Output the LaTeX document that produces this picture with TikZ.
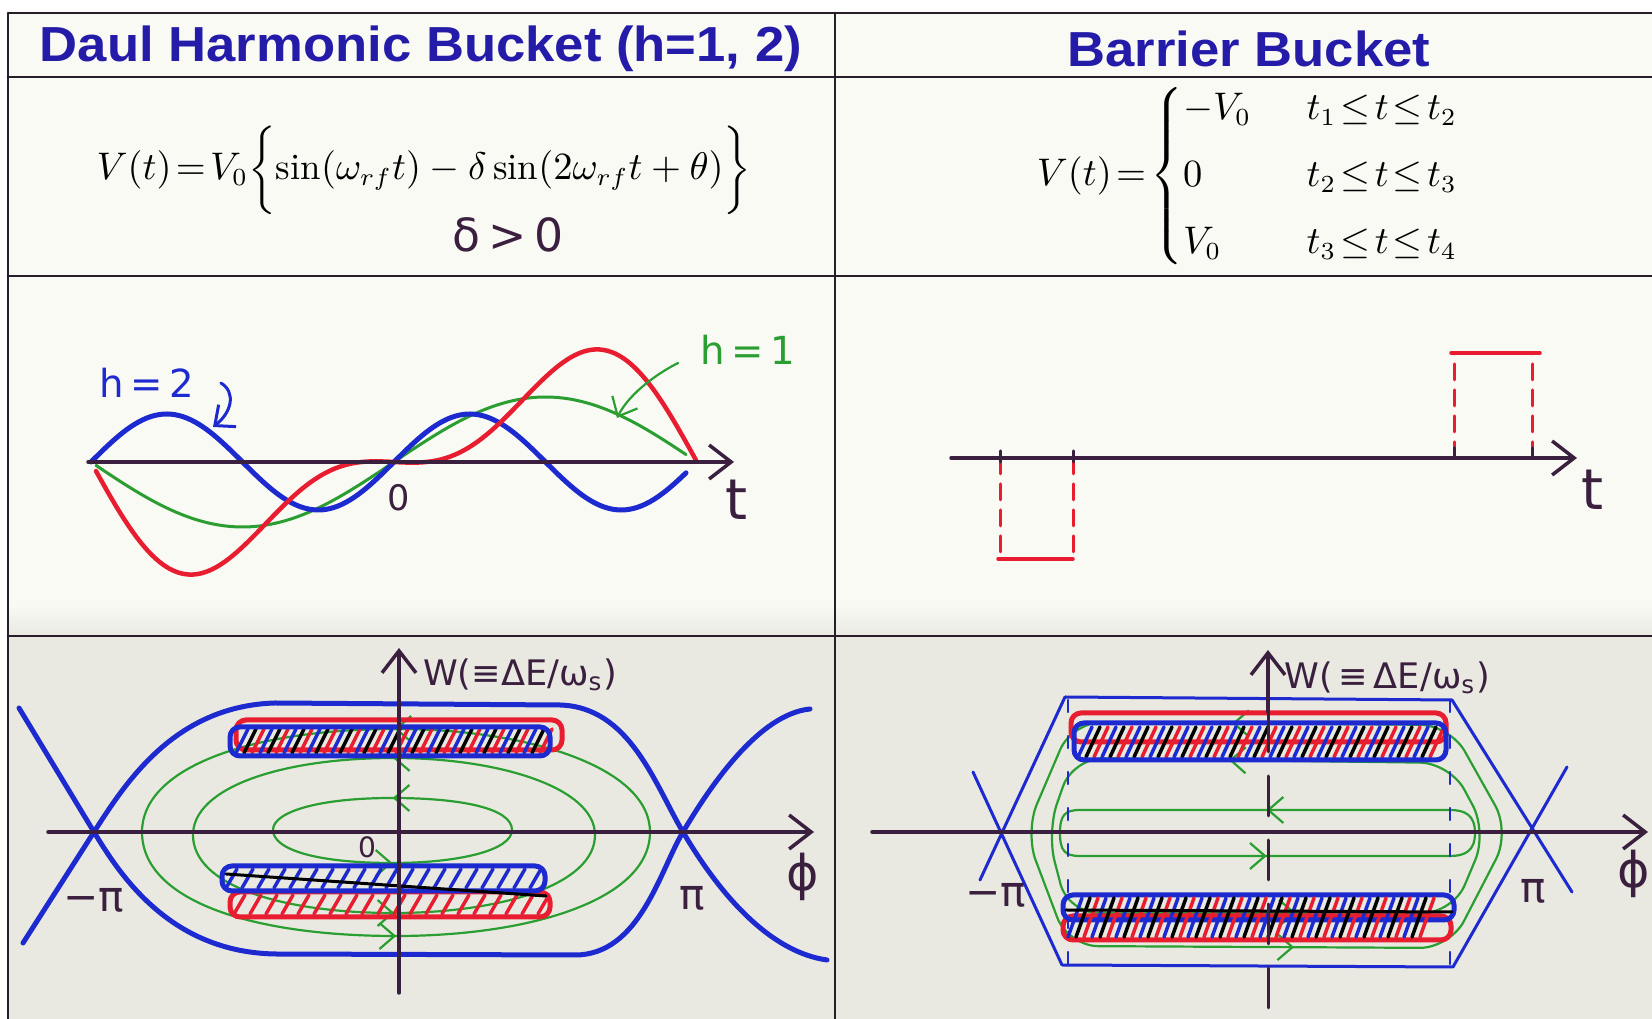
\documentclass[tikz,border=0pt]{standalone}
\usepackage{amsmath,amssymb}
\usepackage{fontspec}
\usepackage{xcolor}
\usepackage{tikz}
\usetikzlibrary{arrows.meta,positioning,calc,decorations.markings}
\newfontfamily\headfont{Liberation Sans}
\newfontfamily\hand{DejaVu Sans}
\definecolor{headblue}{RGB}{36,28,168}
\definecolor{ink}{RGB}{58,32,62}
\definecolor{pblue}{RGB}{28,42,208}
\definecolor{pred}{RGB}{232,30,48}
\definecolor{pgreen}{RGB}{42,158,48}
\definecolor{paper}{RGB}{250,250,245}
\definecolor{desk}{RGB}{233,233,226}
\definecolor{rule}{RGB}{40,30,42}

\begin{document}
\begin{tikzpicture}[x=0.1mm, y=-0.1mm, line cap=round,
  every node/.style={inner sep=0pt},
  head/.style={font=\headfont\bfseries\fontsize{14}{16}\selectfont, text=headblue},
  formula/.style={font=\fontsize{10.5}{12.5}\selectfont},
  handlbl/.style={font=\hand\fontsize{10}{12}\selectfont, text=ink},
  biglbl/.style={font=\hand\fontsize{16}{18}\selectfont, text=ink},
  rulew/.style={rule, line width=0.28mm},
  axis/.style={ink, line width=0.35mm, -{Straight Barb[length=2.2mm,width=3.4mm]}},
  sepx/.style={pblue, line width=0.5mm},
  orbit/.style={pgreen, line width=0.22mm, postaction={decorate}, decoration={markings,
    mark=at position 0.25 with {\arrow{Straight Barb[length=1.5mm,width=2.6mm]}},
    mark=at position 0.75 with {\arrow{Straight Barb[length=1.5mm,width=2.6mm]}}}},
  barout/.style={line width=0.5mm, rounded corners=1mm},
  slash/.style={line width=0.35mm},
  pulse/.style={pred, line width=0.3mm, dash pattern=on 1.6mm off 1mm}]

  \useasboundingbox (0,0) rectangle (1652,1019);
  \fill[white] (0,0) rectangle (1652,1019);
  \fill[paper] (8,13) rectangle (1652,636);
  \shade[top color=paper, bottom color=desk] (8,605) rectangle (1652,636);
  \fill[desk] (8,636) rectangle (1652,1019);
  \draw[rulew] (8,13) -- (1652,13) (8,77) -- (1652,77) (8,276) -- (1652,276)
    (8,636) -- (1652,636) (8,13) -- (8,1019) (835,13) -- (835,1019);

  \node[head] (hl) at (421,49) {\scalebox{1.07}[1]{Daul Harmonic Bucket (h=1, 2)}};
  \node[head] (hr) at (1249,49) {\scalebox{1.07}[1]{Barrier Bucket}};

  \node[formula] (eql) at (424,170)
       {$V(t)\!=\!V_0\biggl\{\sin(\omega_{rf}t)-\delta\sin(2\omega_{rf}t+\theta)\biggr\}$};
  \node[biglbl, font=\hand\fontsize{13}{15}\selectfont] (dgt) at (508,235) {δ\,>\,0};
  \node[formula] (eqr) at (1249,176)
       {$V(t)\!=\!\begin{cases}-V_0 & \enspace t_1\!\le\! t\!\le\! t_2\\[4pt]
        0 & \enspace t_2\!\le\! t\!\le\! t_3\\[4pt] V_0 & \enspace t_3\!\le\! t\!\le\! t_4\end{cases}$};

  % dual harmonic voltage
  \draw[pgreen, line width=0.3mm] plot[domain=96:686, samples=120]
       (\x, {462+65*sin((\x-91)*0.59406)});
  \draw[pblue, line width=0.5mm] plot[domain=91:686, samples=150]
       (\x, {462-48*sin((\x-91)*1.18812)});
  \draw[pred, line width=0.45mm] plot[domain=96:696, samples=150]
       (\x, {462+85*sin((\x-91)*0.59406)+45*sin((\x-91)*1.18812)});
  \draw[axis] (88,462) -- (734,462);
  \node[biglbl] (tl) at (737,500) {t};
  \node[handlbl] (zl) at (399,498) {0};
  \node[handlbl, text=pblue, font=\hand\fontsize{11}{13}\selectfont] (h2) at (147,383) {h\,=\,2};
  \coordinate (h2tip) at (213,427);
  \draw[pblue, line width=0.3mm, -{Straight Barb[length=1.6mm,width=2.8mm]}]
       ([xshift=2.6mm]h2.east) .. controls (236,392) and (232,412) .. (h2tip);
  \node[handlbl, text=pgreen, font=\hand\fontsize{11}{13}\selectfont] (h1) at (748,350) {h\,=\,1};
  \coordinate (h1tip) at (617,418);
  \draw[pgreen, line width=0.22mm, -{Straight Barb[length=1.6mm,width=2.8mm]}]
       ([shift={(-2.2mm,-1.3mm)}]h1.west) .. controls (660,372) and (630,392) .. (h1tip);

  % barrier voltage
  \draw[pulse] (1000,458) -- (1000,559) (1073,458) -- (1073,559)
       (1454,458) -- (1454,353) (1532,458) -- (1532,353);
  \draw[pred, line width=0.35mm] (998,559) -- (1073,559) (1451,353) -- (1540,353);
  \draw[axis] (951,458) -- (1577,458);
  \draw[ink, line width=0.3mm] (1000,451) -- (1000,462) (1073,451) -- (1073,462)
       (1454,448) -- (1454,458) (1532,448) -- (1532,458);
  \node[biglbl] (tr) at (1593,490) {t};

  % dual harmonic phase space
  \draw[orbit] (512,830) .. controls (512,808) and (460,798) .. (392,798)
       .. controls (318,798) and (273,812) .. (273,830)
       .. controls (273,850) and (318,863) .. (392,863)
       .. controls (460,863) and (512,850) .. (512,830);
  \draw[orbit] (595,835) .. controls (595,788) and (500,758) .. (394,758)
       .. controls (280,758) and (193,788) .. (193,835)
       .. controls (193,885) and (280,913) .. (394,913)
       .. controls (500,913) and (595,885) .. (595,835);
  \draw[orbit] (650,832) .. controls (650,768) and (530,729) .. (396,729)
       .. controls (250,729) and (142,768) .. (142,832)
       .. controls (142,900) and (250,936) .. (396,936)
       .. controls (530,936) and (650,900) .. (650,832);
  \draw[pred, barout] (236,720) rectangle (562,750);
  \foreach \s in {0,...,12} {
    \draw[slash, pblue] ({236+24*\s},753) -- ({248+24*\s},729);
    \draw[slash, black] ({244+24*\s},753) -- ({256+24*\s},729);
    \draw[slash, pred] ({252+24*\s},753) -- ({264+24*\s},729);
  }
  \draw[pblue, barout] (230,727) rectangle (550,756);
  \draw[pred, barout] (230,892) rectangle (550,917);
  \draw[pblue, barout] (222,866) rectangle (545,891);
  \foreach \s in {0,...,19} {
    \draw[slash, pblue] ({226+16*\s},888) -- ({237+16*\s},869);
    \draw[slash, pred] ({234+16*\s},914) -- ({245+16*\s},895);
  }
  \draw[black, line width=0.3mm] (226,874) -- (546,896);
  \draw[sepx] (23,943) -- (94,832) .. controls (126,782) and (175,706) .. (275,703)
       -- (560,705) .. controls (630,707) and (655,785) .. (683,832)
       .. controls (720,895) and (770,952) .. (827,960);
  \draw[sepx] (19,708) -- (94,832) .. controls (120,875) and (170,952) .. (275,954)
       -- (575,955) .. controls (640,955) and (660,870) .. (683,832)
       .. controls (712,783) and (760,714) .. (810,709);
  \draw[axis] (48,832) -- (814,832);
  \draw[axis] (399,993) -- (399,648);
  \node[handlbl] (wl) at (520,675) {W(≡ΔE/ω\textsubscript{s})};
  \node[handlbl, font=\hand\fontsize{8}{10}\selectfont] (ol) at (367,847) {0};
  \node[handlbl, font=\hand\fontsize{12}{14}\selectfont] (mpl) at (94,900) {−π};
  \node[handlbl, font=\hand\fontsize{12}{14}\selectfont] (ppl) at (692,898) {π};
  \node[biglbl, font=\hand\fontsize{14}{16}\selectfont] (fl) at (803,877) {ϕ};

  % barrier phase space
  \draw[orbit, rounded corners=3mm] (1510,832) -- (1450,725) -- (1072,722) -- (1025,832)
       -- (1068,946) -- (1450,948) -- cycle;
  \draw[orbit, rounded corners=3mm] (1487,832) -- (1450,763) -- (1073,758) -- (1047,832)
       -- (1068,913) -- (1453,913) -- cycle;
  \draw[orbit] (1475,833) .. controls (1475,815) and (1465,810) .. (1450,810) -- (1080,810)
       .. controls (1065,810) and (1060,815) .. (1060,833)
       .. controls (1060,851) and (1065,856) .. (1080,856) -- (1450,856)
       .. controls (1465,856) and (1475,851) .. (1475,833);
  \draw[pblue, line width=0.22mm, dash pattern=on 1.2mm off 2.4mm]
       (1068,700) -- (1068,965) (1450,700) -- (1450,967);
  \draw[pred, barout] (1071,713) rectangle (1446,742);
  \foreach \s in {0,...,14} {
    \draw[slash, pblue] ({1078+24*\s},757) -- ({1092+24*\s},727);
    \draw[slash, black] ({1086+24*\s},757) -- ({1100+24*\s},727);
    \draw[slash, pred] ({1094+24*\s},757) -- ({1108+24*\s},727);
  }
  \draw[pblue, barout] (1074,723) rectangle (1446,760);
  \draw[pred, barout] (1063,916) rectangle (1451,940);
  \draw[pblue, barout] (1063,895) rectangle (1454,920);
  \foreach \s in {0,...,14} {
    \draw[slash, pblue] ({1068+24*\s},937) -- ({1082+24*\s},898);
    \draw[slash, black] ({1076+24*\s},937) -- ({1090+24*\s},898);
    \draw[slash, pred] ({1084+24*\s},937) -- ({1098+24*\s},898);
  }
  \draw[black, line width=0.3mm] (1066,910) -- (1452,912);
  \draw[pblue, line width=0.3mm] (1065,697) -- (1452,700) (1062,965) -- (1453,967)
       (1065,697) -- (980,880) (973,772) -- (1062,965)
       (1452,700) -- (1572,892) (1567,767) -- (1453,967);
  \draw[axis] (872,832) -- (1648,832);
  \draw[ink, line width=0.3mm, dash pattern=on 4mm off 2.4mm] (1268,1008) -- (1268,705);
  \draw[axis] (1268,712) -- (1268,650);
  \node[handlbl] (wr) at (1387,678) {W(\,≡\,ΔE/ω\textsubscript{s})};
  \node[handlbl, font=\hand\fontsize{12}{14}\selectfont] (mpr) at (996,895) {−π};
  \node[handlbl, font=\hand\fontsize{12}{14}\selectfont] (ppr) at (1533,891) {π};
  \node[biglbl, font=\hand\fontsize{14}{16}\selectfont] (fr) at (1634,874) {ϕ};
\end{tikzpicture}
\end{document}
